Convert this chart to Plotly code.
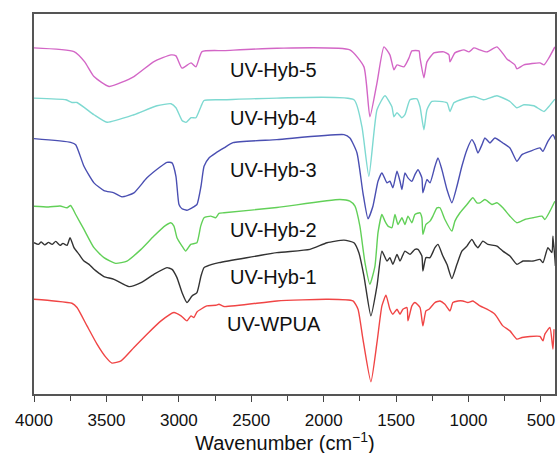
import plotly.graph_objects as go

# ---------------- data (wavenumber in cm-1, transmittance in a.u., offset stacked) ----------------
wn_hyb5 = [4000, 3724, 3650, 3586, 3482, 3310, 3172, 3054, 3020, 2978, 2916, 2882, 2840, 2688, 2323,
           1819, 1722, 1681, 1632, 1584, 1543, 1515, 1494, 1446, 1411, 1391, 1342, 1335, 1308, 1287,
           1239, 1170, 1135, 1128, 1094, 1032, 997, 963, 921, 873, 804, 756, 735, 680, 666, 618, 507,
           479, 445, 404]
t_hyb5 = [347, 343.3, 333, 318.3, 308.3, 318.3, 333.3, 340, 339, 326.7, 332, 328, 343.3, 344.3, 346.7,
          345, 328, 278, 312, 348, 340, 325, 330, 328, 337, 344, 344, 337, 317, 333,
          342, 343, 340, 333, 342, 345, 343, 347, 345, 343, 348, 340, 336, 330, 326, 330, 332,
          330, 337, 348]

wn_hyb4 = [4000, 3779, 3738, 3703, 3586, 3496, 3310, 3151, 3054, 3020, 2978, 2951, 2916, 2882, 2847,
           2826, 2688, 2323, 1791, 1736, 1688, 1632, 1577, 1529, 1515, 1494, 1460, 1439, 1404, 1356,
           1335, 1308, 1287, 1253, 1149, 1128, 1101, 1032, 963, 894, 804, 714, 666, 618, 549, 479,
           445, 404]
t_hyb4 = [296.7, 295, 292.3, 292.3, 280, 272.5, 280, 289, 291, 287, 274.3, 272.3, 277, 277, 288.3,
          294.3, 295, 296.7, 295, 268, 218.3, 285, 299, 288, 278, 282, 277, 280, 295, 296,
          288, 265, 285, 293.3, 292, 283.3, 292, 296, 298.3, 295, 299, 293.3, 287, 290, 289, 283.3,
          288.3, 295.7]

wn_hyb3 = [4000, 3747, 3712, 3655, 3586, 3517, 3448, 3393, 3310, 3220, 3123, 3082, 3047, 3020, 2999,
           2978, 2944, 2909, 2875, 2847, 2826, 2792, 2744, 2688, 2626, 2323, 1860, 1819, 1770, 1729,
           1694, 1660, 1625, 1598, 1563, 1543, 1522, 1494, 1473, 1460, 1439, 1418, 1391, 1370, 1349,
           1322, 1315, 1287, 1266, 1232, 1211, 1184, 1149, 1115, 1080, 1046, 1011, 977, 956, 935,
           907, 887, 852, 818, 763, 714, 666, 631, 576, 507, 486, 452, 417, 400]
t_hyb3 = [256, 252.3, 250, 228.3, 211.7, 204, 201.7, 197.7, 201.7, 216.7, 228.3, 232.3, 231.7, 218.3, 190,
          185.7, 184.3, 186.7, 190, 208.3, 228.3, 236.7, 241.7, 246.7, 252, 255, 260, 256.7, 241.7, 201.7,
          175.7, 188.3, 213.3, 221.7, 211.7, 213.3, 206.7, 223.3, 213.3, 205, 221.7, 216.7, 213.3, 220, 225,
          216.7, 201.7, 215, 211.7, 228.3, 236.7, 225, 205, 191.7, 208.3, 228.3, 245, 255, 250, 241.7,
          250, 256.7, 251.7, 256.7, 251.7, 246.7, 233.3, 240, 243.3, 246.7, 243.3, 253.3, 260, 255]

wn_hyb2 = [4000, 3900, 3820, 3772, 3747, 3712, 3655, 3586, 3517, 3436, 3358, 3261, 3172, 3091, 3056,
           3034, 3013, 2978, 2953, 2918, 2875, 2849, 2826, 2780, 2746, 2723, 2688, 2323, 1888, 1819,
           1784, 1750, 1715, 1681, 1646, 1625, 1598, 1577, 1556, 1529, 1508, 1487, 1460, 1439, 1418,
           1391, 1370, 1335, 1322, 1315, 1294, 1266, 1246, 1218, 1197, 1163, 1115, 1094, 1059, 1011,
           970, 942, 921, 887, 838, 804, 763, 714, 666, 611, 555, 493, 473, 438, 404]
t_hyb2 = [188.3, 187.5, 188.5, 186.7, 189, 180, 165, 146.7, 136.7, 131, 133.3, 145, 158.3, 169, 171.7,
          168.3, 156.7, 148.3, 143.3, 150, 151.7, 168.3, 176.7, 178.3, 176.7, 181, 181.7, 187, 195, 193.3,
          188.3, 168.3, 131.7, 110, 128.3, 161.7, 180, 173.3, 168.3, 166.7, 180, 170, 176.7, 170, 178.3,
          171.7, 180, 181.7, 176.7, 160, 170, 173.3, 178.3, 186.7, 186.7, 175, 163.3, 173.3, 181.7, 190,
          196.7, 191.7, 191.7, 195, 190, 191.7, 186.7, 178.3, 171.7, 175, 176.7, 178.3, 175, 183.3, 193.3]

wn_hyb1 = [4000, 3970, 3950, 3925, 3900, 3875, 3850, 3820, 3800, 3772, 3751, 3724, 3689, 3655, 3620,
           3586, 3550, 3517, 3448, 3344, 3261, 3172, 3082, 3047, 3013, 2978, 2944, 2909, 2875, 2847,
           2826, 2771, 2723, 2323, 2095, 1977, 1860, 1791, 1757, 1722, 1674, 1632, 1598, 1563, 1543,
           1522, 1494, 1473, 1439, 1404, 1370, 1349, 1322, 1315, 1294, 1266, 1232, 1211, 1177, 1149,
           1115, 1080, 1046, 1011, 977, 956, 935, 901, 866, 804, 763, 714, 666, 624, 555, 507,
           486, 452, 424, 417, 400]
t_hyb1 = [151.7, 150, 152.5, 149.5, 152, 150, 153, 149, 151, 149, 156.7, 146.7, 140, 133.3, 130,
          125, 121, 117.7, 115, 107.7, 111.7, 120, 126.7, 125, 116.7, 101.7, 91.7, 98.3, 101.7, 118.3,
          126.7, 130, 131.7, 141.7, 145, 151.7, 154.3, 151.7, 141.7, 118.3, 78.3, 108.3, 143.3, 133.3, 136.7,
          130, 140, 133.3, 143.3, 140, 145, 145, 138.3, 123.3, 136.7, 136.7, 146.7, 150, 138.3, 130,
          115.7, 130, 143.3, 148.3, 155, 150, 146.7, 153.3, 150, 148.3, 143.3, 138.3, 130, 133.3, 133.3, 135,
          131.7, 146.7, 141.7, 158.3, 128.3]

wn_wpua = [4000, 3862, 3738, 3703, 3634, 3565, 3503, 3462, 3399, 3310, 3220, 3123, 3034, 2985, 2944,
           2916, 2896, 2875, 2840, 2806, 2744, 2723, 2688, 2323, 1977, 1798, 1763, 1729, 1674, 1632,
           1598, 1570, 1543, 1522, 1494, 1473, 1453, 1425, 1418, 1391, 1370, 1335, 1315, 1294, 1273,
           1232, 1197, 1163, 1128, 1108, 1073, 1039, 1004, 970, 921, 873, 818, 763, 714, 666,
           631, 576, 507, 486, 473, 438, 417, 410]
t_wpua = [95, 93.3, 91, 86.7, 68.3, 50, 36.7, 31, 33.3, 46.7, 60, 73.3, 81.7, 78.3, 73.3,
          78.3, 76.7, 82.3, 85.7, 88.3, 89, 90, 87.7, 93.3, 95, 93.3, 85, 55, 12.3, 51.7,
          88.3, 99, 85, 80, 85, 80, 85, 86.7, 73.3, 88.3, 91.7, 86.7, 68.3, 83.3, 85,
          91.7, 93.3, 90, 83.3, 91.7, 93.3, 93.3, 91.7, 93.3, 88.3, 85, 80, 68.3, 63.3, 55,
          56.7, 57.7, 57.7, 53.3, 60, 66.7, 45, 65]

series_names = ["UV-Hyb-5", "UV-Hyb-4", "UV-Hyb-3", "UV-Hyb-2", "UV-Hyb-1", "UV-WPUA"]
series_x = [wn_hyb5, wn_hyb4, wn_hyb3, wn_hyb2, wn_hyb1, wn_wpua]
series_y = [t_hyb5, t_hyb4, t_hyb3, t_hyb2, t_hyb1, t_wpua]
colors = ["#d366c6", "#7ed9d1", "#4a4fb2", "#62d058", "#333333", "#f04545"]

label_x = [2661, 2661, 2661, 2661, 2661, 2681]
label_y = [325, 277, 225, 164, 117, 70]

x_tickvals = [4000, 3500, 3000, 2500, 2000, 1500, 1000, 500]
x_ticktext = ["4000", "3500", "3000", "2500", "2000", "1500", "1000", "500"]

FONT = "Liberation Sans, Arial, sans-serif"

# ---------------- figure ----------------
fig = go.Figure()
for name, xs, ys, c in zip(series_names, series_x, series_y, colors):
    fig.add_trace(go.Scatter(x=xs, y=ys, mode="lines", name=name,
                             line=dict(color=c, width=1.4, shape="spline", smoothing=0.5),
                             showlegend=False, hoverinfo="skip"))

for name, lx, ly in zip(series_names, label_x, label_y):
    fig.add_annotation(x=lx, y=ly, text=name, showarrow=False, xanchor="left", yanchor="middle",
                       font=dict(size=20, color="#111111", family=FONT))

fig.add_annotation(x=0.482, y=-0.124, xref="paper", yref="paper", showarrow=False,
                   text="Wavenumber (cm<sup>−1</sup>)", xanchor="center", yanchor="middle",
                   font=dict(size=20, color="#111111", family=FONT))

fig.update_layout(
    width=557, height=453,
    margin=dict(l=34, r=2, t=14, b=59, autoexpand=False),
    paper_bgcolor="white", plot_bgcolor="white",
    font=dict(family=FONT, color="#111111"),
    xaxis=dict(range=[4000, 403], tickvals=x_tickvals, ticktext=x_ticktext, automargin=False,
               ticks="outside", ticklen=6, tickwidth=1.2, tickcolor="#444444", ticklabelstandoff=4,
               minor=dict(dtick=250, tick0=0, ticks="outside", ticklen=5, tickwidth=1.2, tickcolor="#444444"),
               showline=True, linecolor="#555555", linewidth=1.5, mirror=True,
               showgrid=False, zeroline=False, tickfont=dict(size=17, color="#111111")),
    yaxis=dict(range=[0, 381], showticklabels=False, ticks="", automargin=False,
               showline=True, linecolor="#555555", linewidth=1.5, mirror=True,
               showgrid=False, zeroline=False),
)

fig.write_html("out.html", config={"displayModeBar": False},
               post_script="document.body.style.margin='0';document.body.style.overflow='hidden';")
